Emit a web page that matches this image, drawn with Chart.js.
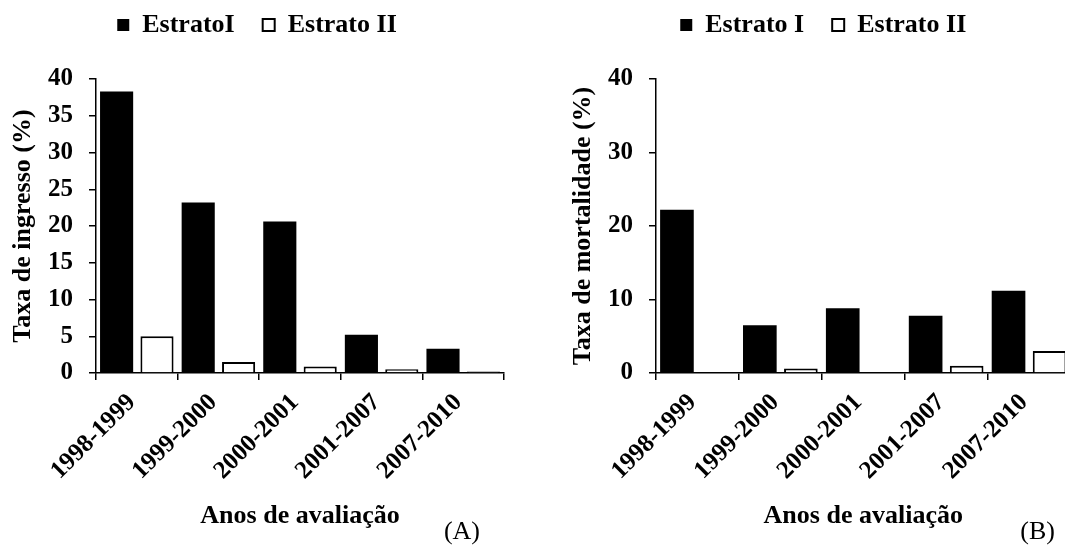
<!DOCTYPE html>
<html>
<head>
<meta charset="utf-8">
<script src="https://cdn.jsdelivr.net/npm/chart.js@4.4.1/dist/chart.umd.min.js"></script>
<style>
html, body { margin:0; padding:0; background:#fff; overflow:hidden; width:1065px; height:547px; }
.panel { position:absolute; top:0; height:547px; }
#pa { left:0; width:512px; }
#pb { left:560px; width:526px; }
</style>
</head>
<body>
<div class="panel" id="pa"><canvas id="ca"></canvas></div>
<div class="panel" id="pb"><canvas id="cb"></canvas></div>
<script>
const categories = ['1998-1999', '1999-2000', '2000-2001', '2001-2007', '2007-2010'];
const ingressoEstratoI  = [38.3, 23.2, 20.6, 5.2, 3.3];
const ingressoEstratoII = [5.0, 1.5, 0.9, 0.5, 0.2];
const mortalidadeEstratoI  = [22.2, 6.5, 8.8, 7.8, 11.2];
const mortalidadeEstratoII = [0, 0.6, 0.1, 1.0, 3.0];
const ingressoTicksStep = 5;
const mortalidadeTicksStep = 10;

const FONT = "'Liberation Serif', 'Times New Roman', serif";
Chart.defaults.font.family = FONT;
Chart.defaults.color = '#000';

const legendMargin = {
  id: 'legendMargin',
  beforeInit(chart, args, opts) {
    const orig = chart.legend.fit;
    chart.legend.fit = function () {
      orig.call(this);
      this.height += opts.extra;
    };
  },
  afterLayout(chart, args, opts) {
    chart.legend.top -= opts.shift;
    chart.legend.left += opts.shiftX;
    chart.legend.right += opts.shiftX;
  }
};

const panelLabel = {
  id: 'panelLabel',
  afterDraw(chart, args, opts) {
    const ctx = chart.ctx;
    ctx.save();
    ctx.font = "26px " + FONT;
    ctx.fillStyle = '#000';
    ctx.textAlign = 'right';
    ctx.textBaseline = 'middle';
    ctx.fillText(opts.text, opts.x, opts.y);
    ctx.restore();
  }
};

function makeChart(id, labelI, labelII, dataI, dataII, step, yTitle, panelText, panelX, padRight, legendShiftX) {
  return new Chart(document.getElementById(id), {
    type: 'bar',
    data: {
      labels: categories,
      datasets: [
        { label: labelI, data: dataI, backgroundColor: '#000', borderColor: '#000', borderWidth: 0,
          categoryPercentage: 0.99, barPercentage: 0.82 },
        { label: labelII, data: dataII, backgroundColor: '#fff', borderColor: '#000', borderWidth: 2,
          categoryPercentage: 0.99, barPercentage: 0.82 }
      ]
    },
    plugins: [legendMargin, panelLabel],
    options: {
      responsive: true,
      maintainAspectRatio: false,
      animation: false,
      layout: { padding: { top: 0, bottom: 15, left: 0, right: padRight } },
      plugins: {
        tooltip: { enabled: false },
        legend: {
          display: true,
          position: 'top',
          labels: {
            boxWidth: 12, boxHeight: 12, padding: 28,
            font: { size: 26, weight: 'bold', family: FONT },
            color: '#000'
          }
        },
        legendMargin: { extra: 15, shift: 16, shiftX: legendShiftX },
        panelLabel: { text: panelText, x: panelX, y: 532 }
      },
      scales: {
        x: {
          afterFit(s) { s.height = 159; },
          grid: { display: true, drawOnChartArea: false, drawTicks: true, tickLength: 7, color: '#000', lineWidth: 1.5 },
          border: { display: true, color: '#000', width: 1.5 },
          ticks: { maxRotation: 45, minRotation: 45, padding: 8, labelOffset: -5, color: '#000',
                   font: { size: 25, weight: 'bold', family: FONT } },
          title: { display: true, text: 'Anos de avaliação', color: '#000',
                   font: { size: 26, weight: 'bold', family: FONT }, padding: { top: 0, bottom: 0 } }
        },
        y: {
          min: 0, max: 40,
          afterFit(s) { s.width = 96; },
          grid: { display: true, drawOnChartArea: false, drawTicks: true, tickLength: 7, color: '#000', lineWidth: 1.5 },
          border: { display: true, color: '#000', width: 1.5 },
          ticks: { stepSize: step, padding: 16, color: '#000',
                   font: { size: 25, weight: 'bold', family: FONT } },
          title: { display: true, text: yTitle, color: '#000',
                   font: { size: 26, weight: 'bold', family: FONT }, padding: { top: 8, bottom: 0 } }
        }
      }
    }
  });
}

makeChart('ca', 'EstratoI', 'Estrato II', ingressoEstratoI, ingressoEstratoII, ingressoTicksStep,
          'Taxa de ingresso (%)', '(A)', 480, 8, 5);
makeChart('cb', 'Estrato I', 'Estrato II', mortalidadeEstratoI, mortalidadeEstratoII, mortalidadeTicksStep,
          'Taxa de mortalidade (%)', '(B)', 495, 15.5, 8);
</script>
</body>
</html>
